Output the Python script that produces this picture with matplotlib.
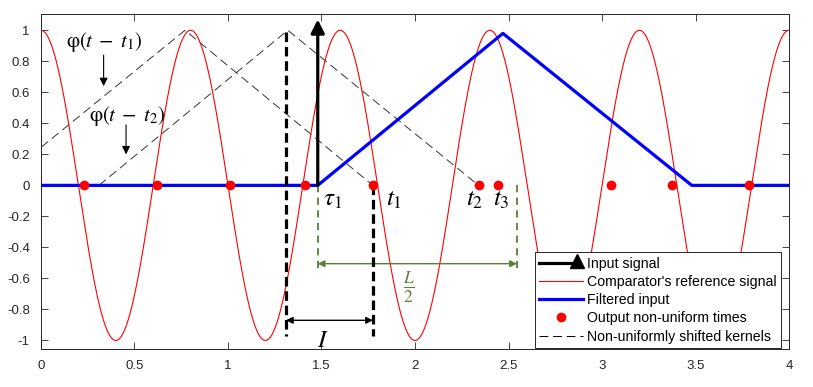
import numpy as np
import matplotlib
matplotlib.use('Agg')
import matplotlib.pyplot as plt
from matplotlib.lines import Line2D
from matplotlib.legend_handler import HandlerBase

plt.rcParams['font.family'] = ['Liberation Sans', 'DejaVu Sans']
plt.rcParams['mathtext.fontset'] = 'stix'

# comparator reference signal (cosine)
ref_amp = 1.0
ref_period = 0.8

# input impulse
tau1 = 1.48
impulse_height = 1.07

# filtered input (triangle response)
filt_t = [0.0, 1.48, 2.47, 3.48, 4.0]
filt_y = [0.0, 0.0, 0.98, 0.0, 0.0]

# output non-uniform times
out_t = [0.23, 0.62, 1.01, 1.41, 1.775, 2.34, 2.445, 3.05, 3.375, 3.785]

# shifted kernels (triangle vertices)
kern1_t = [-0.25, 0.77, 1.775]
kern1_y = [0.0, 1.0, 0.0]
kern2_t = [0.31, 1.32, 2.34]
kern2_y = [0.0, 1.0, 0.0]

# annotation positions
vline_a = 1.31
vline_b = 1.775
green_a = 1.48
green_b = 2.545

col_green = '#548235'
col_axis = '#262626'

fig = plt.figure(figsize=(8.13, 3.87), dpi=100)
ax = fig.add_axes([0.0504, 0.0982, 0.9201, 0.8656])

t = np.linspace(0, 4, 2000)
ref = ref_amp * np.cos(2 * np.pi * t / ref_period)

ax.plot(t, ref, color='#ff0000', lw=0.8, zorder=3)
ax.plot(kern1_t, kern1_y, color='#333333', lw=0.7, dashes=(9, 5), zorder=2)
ax.plot(kern2_t, kern2_y, color='#333333', lw=0.7, dashes=(9, 5), zorder=2)
ax.plot(filt_t, filt_y, color='#0000ff', lw=2.3, zorder=4)
ax.plot(out_t, np.zeros(len(out_t)), 'o', color='#ff0000', ms=6, zorder=6)

# input impulse arrow
ax.annotate('', xy=(tau1, impulse_height), xytext=(tau1, 0),
            arrowprops=dict(arrowstyle='-|>', lw=2.3, color='k',
                            mutation_scale=20, shrinkA=0, shrinkB=0), zorder=5)

# thick dashed vertical markers
ax.plot([vline_a, vline_a], [0.99, -0.97], color='k', lw=2.3, dashes=(3, 1.5), zorder=5)
ax.plot([vline_b, vline_b], [0.0, -0.97], color='k', lw=2.3, dashes=(3, 1.5), zorder=5)
ax.annotate('', xy=(vline_a, -0.87), xytext=(vline_b, -0.87),
            arrowprops=dict(arrowstyle='<|-|>', lw=1.0, color='k',
                            mutation_scale=10, shrinkA=0, shrinkB=0))
ax.text(1.51, -1.0, r'$I$', fontsize=18, ha='center', va='center')

# green L/2 marker
ax.plot([green_a, green_a], [0.0, -0.53], color=col_green, lw=1.3, dashes=(4, 3))
ax.plot([green_b, green_b], [0.0, -0.53], color=col_green, lw=1.3, dashes=(4, 3))
ax.annotate('', xy=(green_a, -0.505), xytext=(green_b, -0.505),
            arrowprops=dict(arrowstyle='<|-|>', lw=1.0, color=col_green,
                            mutation_scale=10, shrinkA=0, shrinkB=0))
ax.text(1.97, -0.66, r'$\frac{L}{2}$', fontsize=18, color=col_green,
        ha='center', va='center')

# time labels
ax.text(1.56, -0.09, r'$\tau_1$', fontsize=18, ha='center', va='center')
ax.text(1.89, -0.09, r'$t_1$', fontsize=18, ha='center', va='center')
ax.text(2.32, -0.09, r'$t_2$', fontsize=18, ha='center', va='center')
ax.text(2.46, -0.09, r'$t_3$', fontsize=18, ha='center', va='center')

# kernel labels with arrows
ax.text(0.34, 0.925, r'$\mathrm{\varphi}(t\;-\;t_1)$', fontsize=15, ha='center', va='center')
ax.annotate('', xy=(0.335, 0.64), xytext=(0.335, 0.84),
            arrowprops=dict(arrowstyle='-|>', lw=0.8, color='k',
                            mutation_scale=12, shrinkA=0, shrinkB=0))
ax.text(0.46, 0.45, r'$\mathrm{\varphi}(t\;-\;t_2)$', fontsize=15, ha='center', va='center')
ax.annotate('', xy=(0.455, 0.2), xytext=(0.455, 0.39),
            arrowprops=dict(arrowstyle='-|>', lw=0.8, color='k',
                            mutation_scale=12, shrinkA=0, shrinkB=0))

ax.set_xlim(0, 4)
ax.set_ylim(-1.055, 1.105)
ax.set_xticks(np.arange(0, 4.01, 0.5))
ax.set_xticklabels(['0', '0.5', '1', '1.5', '2', '2.5', '3', '3.5', '4'])
ax.set_yticks(np.arange(-1, 1.01, 0.2))
ax.set_yticklabels(['-1', '-0.8', '-0.6', '-0.4', '-0.2', '0',
                    '0.2', '0.4', '0.6', '0.8', '1'])
ax.tick_params(direction='in', top=True, right=True, length=5, width=0.6,
               colors=col_axis, labelsize=9.5, pad=8)
for s in ax.spines.values():
    s.set_color(col_axis)
    s.set_linewidth(0.7)


class ArrowHandler(HandlerBase):
    def create_artists(self, legend, orig_handle, xdescent, ydescent,
                       width, height, fontsize, trans):
        y = height / 2 - ydescent
        x0 = -xdescent
        x1 = width - xdescent
        ln = Line2D([x0, x1 - 5], [y, y], color='k', lw=2.3, transform=trans)
        tri = Line2D([x1 - 4], [y + 1.5], marker='^', color='k', ms=10, ls='none',
                     transform=trans)
        return [ln, tri]


h_in = Line2D([], [], color='k')
h_ref = Line2D([], [], color='#ff0000', lw=0.8)
h_filt = Line2D([], [], color='#0000ff', lw=2.3)
h_out = Line2D([], [], marker='o', color='#ff0000', ms=6, ls='none')
h_ker = Line2D([], [], color='k', lw=0.7, dashes=(9, 5))
leg = ax.legend([h_in, h_ref, h_filt, h_out, h_ker],
                ['Input signal', "Comparator's reference signal", 'Filtered input',
                 'Output non-uniform times', 'Non-uniformly shifted kernels'],
                handler_map={h_in: ArrowHandler()},
                loc='lower right', bbox_to_anchor=(0.993, -0.005),
                fontsize=10.2, frameon=True, fancybox=False, framealpha=1,
                edgecolor=col_axis, borderpad=0.3, labelspacing=0.3,
                handlelength=3.1, handletextpad=0.3, borderaxespad=0.2)
leg.get_frame().set_linewidth(0.7)
leg.set_zorder(10)

fig.savefig('out.png', dpi=100)
